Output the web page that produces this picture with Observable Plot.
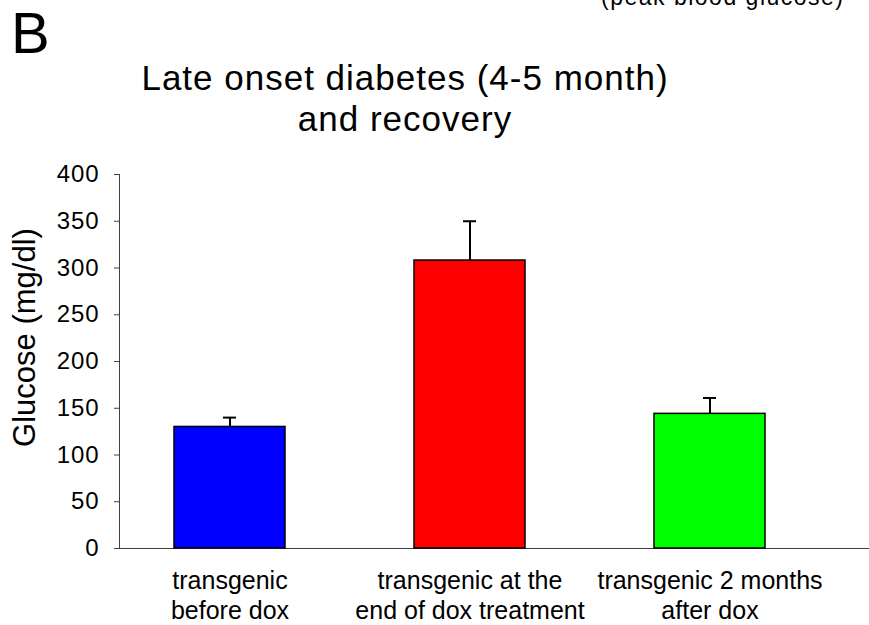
<!DOCTYPE html>
<html>
<head>
<meta charset="utf-8">
<script src="https://cdn.jsdelivr.net/npm/d3@7"></script>
<script src="https://cdn.jsdelivr.net/npm/@observablehq/plot@0.6"></script>
<style>
  body { margin: 0; background: #fff; }
  #wrap { position: relative; width: 869px; height: 625px; overflow: hidden;
          font-family: "Liberation Sans", Arial, sans-serif; color: #000; background: #fff; }
  #wrap svg { position: absolute; left: 0; top: 0; }
  .lbl { position: absolute; white-space: nowrap; }
  #panel { left: 11px; top: 4px; font-size: 58px; line-height: 58px; }
  #peak { left: 601px; top: -14px; font-size: 23px; line-height: 23px; letter-spacing: 1.5px; }
  #title { left: 0; width: 810px; top: 57px; font-size: 35px; line-height: 41px; text-align: center; letter-spacing: 1px; }
  svg g[aria-label="y-axis tick label"] text { letter-spacing: 0.9px; }
  svg g[aria-label="x-label"] text { letter-spacing: 0.7px; }
  svg g[aria-label="y-label"] text { letter-spacing: 1.3px; }
</style>
</head>
<body>
<div id="wrap">
  <div id="panel" class="lbl">B</div>
  <div id="peak" class="lbl">(peak blood glucose)</div>
  <div id="title" class="lbl">Late onset diabetes (4-5 month)<br>and recovery</div>
</div>
<script>
const categories = [
  "transgenic\nbefore dox",
  "transgenic at the\nend of dox treatment",
  "transgenic 2 months\nafter dox"
];
const glucose = [130, 308, 144];
const errorUp = [10, 42, 17];
const barColors = ["#0000ff", "#ff0000", "#00ff00"];
const yTicks = [0, 50, 100, 150, 200, 250, 300, 350, 400];
const yLabel = "Glucose (mg/dl)";

const data = categories.map((c, i) => ({cat: c, value: glucose[i], err: errorUp[i]}));

const plot = Plot.plot({
  width: 869,
  height: 625,
  marginLeft: 119,
  marginRight: 0,
  marginTop: 174,
  marginBottom: 77,
  style: {fontFamily: "'Liberation Sans', Arial, sans-serif", fontSize: "24px", background: "white", color: "black", overflow: "visible"},
  x: {type: "band", domain: categories, range: [109, 830], paddingInner: 0.538, paddingOuter: 0.269, axis: null},
  y: {domain: [0, 400], axis: null},
  color: {domain: categories, range: barColors},
  marks: [
    Plot.ruleY([0], {stroke: "#404040", strokeWidth: 1}),
    Plot.barY(data, {x: "cat", y: "value", fill: "cat", stroke: "black", strokeWidth: 1.5}),
    Plot.ruleX(data, {x: "cat", y1: "value", y2: d => d.value + d.err, stroke: "black", strokeWidth: 2}),
    Plot.tickY(data, {x: "cat", y: d => d.value + d.err, stroke: "black", strokeWidth: 2, insetLeft: 49, insetRight: 49}),
    Plot.frame({anchor: "left", stroke: "#404040"}),
    Plot.axisY({ticks: yTicks, tickSize: 5, tickPadding: 15, fontSize: 24, stroke: "#404040", fill: "black", label: null, tickFormat: d => String(d)}),
    Plot.text(data, {x: "cat", text: "cat", frameAnchor: "bottom", lineAnchor: "top", dy: 19, lineHeight: 1.2, fontSize: 25, fill: "black", ariaLabel: "x-label"}),
    Plot.text([yLabel], {text: d => d, frameAnchor: "left", rotate: -90, textAnchor: "middle", lineAnchor: "top", dx: -107, dy: -24, fontSize: 31, fill: "black", ariaLabel: "y-label"})
  ]
});

document.getElementById("wrap").prepend(plot);
</script>
</body>
</html>
